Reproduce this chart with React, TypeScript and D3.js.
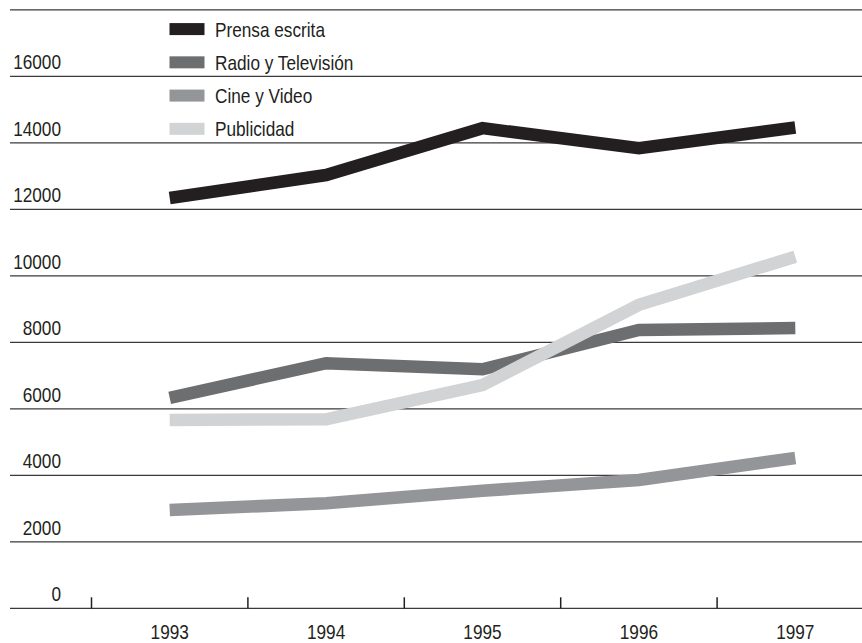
import React from 'react';
import * as d3 from 'd3';

const years = ['1993', '1994', '1995', '1996', '1997'];
const yTicks = [0, 2000, 4000, 6000, 8000, 10000, 12000, 14000, 16000, 18000];
const yLabels = ['0', '2000', '4000', '6000', '8000', '10000', '12000', '14000', '16000'];

const prensa = [12340, 13030, 14440, 13840, 14460];
const radioTv = [6330, 7370, 7190, 8370, 8430];
const cineVideo = [2955, 3160, 3535, 3860, 4520];
const publicidad = [5665, 5685, 6715, 9125, 10575];

const seriesNames = ['Prensa escrita', 'Radio y Televisión', 'Cine y Video', 'Publicidad'];
const seriesColors = ['#231f20', '#6d6e70', '#939598', '#d1d3d4'];
const seriesValues = [prensa, radioTv, cineVideo, publicidad];

const width = 862;
const height = 643;
const font = '"Liberation Sans", Arial, sans-serif';

// condensed look: squeeze a regular sans horizontally
const NarrowText: React.FC<{ x: number; y: number; anchor?: string; children: React.ReactNode }> = ({ x, y, anchor = 'start', children }) => (
  <g transform={`translate(${x},${y}) scale(0.82,1)`}>
    <text x={0} y={0} textAnchor={anchor} fontFamily={font} fontSize={21} fill="#231f20">{children}</text>
  </g>
);

const App: React.FC = () => {
  const x = d3.scaleBand<string>()
    .domain(years)
    .range([91.5, 91.5 + 5 * 156.4])
    .padding(0);

  const y = d3.scaleLinear()
    .domain([0, 18000])
    .range([608.3, 9.8]);

  const line = d3.line<number>()
    .x((_, i) => (x(years[i]) as number) + x.bandwidth() / 2)
    .y(d => y(d));

  // legend rows sit on half-gridline steps
  const legendY = (i: number) => y(17420 - i * 1000);

  return (
    <div style={{ position: 'absolute', left: 0, top: 0 }}>
      <svg width={width} height={height} style={{ display: 'block', background: '#fff' }}>
        {/* gridlines */}
        {yTicks.map(t => (
          <line key={t} x1={10} x2={862} y1={y(t)} y2={y(t)} stroke="#3a3a3a" strokeWidth={1.3} />
        ))}
        {yLabels.map((l, i) => (
          <NarrowText key={l} x={61} y={y(yTicks[i]) - 7} anchor="end">{l}</NarrowText>
        ))}

        {/* x ticks and labels */}
        {years.map(yr => (
          <g key={yr}>
            <line x1={x(yr)} x2={x(yr)} y1={y(0)} y2={y(0) - 11} stroke="#231f20" strokeWidth={1.5} />
            <NarrowText x={(x(yr) as number) + x.bandwidth() / 2} y={639} anchor="middle">{yr}</NarrowText>
          </g>
        ))}

        {/* series lines */}
        {seriesValues.map((vals, i) => (
          <path key={seriesNames[i]} d={line(vals) as string} fill="none"
            stroke={seriesColors[i]} strokeWidth={12.5}
            strokeLinejoin="miter" strokeLinecap="butt" />
        ))}

        {/* legend */}
        {seriesNames.map((name, i) => (
          <g key={name}>
            <rect x={169.5} y={legendY(i) - 6} width={35} height={12} fill={seriesColors[i]} />
            <NarrowText x={215} y={legendY(i) + 7.5}>{name}</NarrowText>
          </g>
        ))}
      </svg>
    </div>
  );
};

export default App;
